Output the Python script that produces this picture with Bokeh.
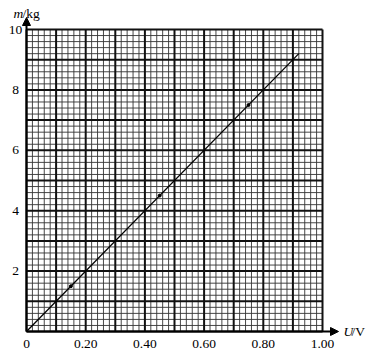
import numpy as np
from bokeh.plotting import figure
from bokeh.models import Range1d, Arrow, NormalHead
from bokeh.core.properties import value
from bokeh.embed import file_html
from bokeh.resources import INLINE

# ---- data ----
x_tick_values = [0, 0.2, 0.4, 0.6, 0.8, 1.0]
x_tick_labels = ["0", "0.20", "0.40", "0.60", "0.80", "1.00"]
y_tick_values = [2, 4, 6, 8, 10]
y_tick_labels = ["2", "4", "6", "8", "10"]
line_u = [0.0, 0.92]
line_m = [0.0, 9.2]
point_u = [0.15, 0.45, 0.75]
point_m = [1.5, 4.5, 7.5]

X_MAX, Y_MAX = 1.0, 10.0
X_MINOR, Y_MINOR = 0.02, 0.2

# pixel geometry
W, H = 372, 355
ox, oy = 26, 331          # pixel of origin
sx, sy = 296.0, 30.2      # pixels per unit

p = figure(width=W, height=H, output_backend="svg", toolbar_location=None,
           min_border=0, min_border_left=0, min_border_right=0,
           min_border_top=0, min_border_bottom=0,
           x_range=Range1d(-ox / sx, (W - ox) / sx),
           y_range=Range1d(-(H - oy) / sy, oy / sy))
p.axis.visible = False
p.grid.visible = False
p.outline_line_color = None
p.background_fill_color = "white"
p.border_fill_color = "white"

# grid
xs = np.round(np.arange(0, X_MAX + 1e-9, X_MINOR), 4)
ys = np.round(np.arange(0, Y_MAX + 1e-9, Y_MINOR), 4)
is_major_x = np.isclose((xs * 10) % 1, 0) | np.isclose((xs * 10) % 1, 1)
is_major_y = np.isclose(ys % 1, 0) | np.isclose(ys % 1, 1)

minor_v = xs[~is_major_x]
minor_h = ys[~is_major_y]
p.segment(x0=minor_v, y0=0, x1=minor_v, y1=Y_MAX, line_color="#333333", line_width=0.9)
p.segment(x0=0, y0=minor_h, x1=X_MAX, y1=minor_h, line_color="#333333", line_width=0.9)
major_v = xs[is_major_x]
major_h = ys[is_major_y]
p.segment(x0=major_v, y0=0, x1=major_v, y1=Y_MAX, line_color="#111111", line_width=2)
p.segment(x0=0, y0=major_h, x1=X_MAX, y1=major_h, line_color="#111111", line_width=2)

# axes with arrows
p.add_layout(Arrow(end=NormalHead(size=8, fill_color="black", line_color="black"),
                   x_start=0, y_start=0, x_end=(338 - ox) / sx, y_end=0,
                   line_color="black", line_width=2))
p.add_layout(Arrow(end=NormalHead(size=8, fill_color="black", line_color="black"),
                   x_start=0, y_start=0, x_end=0, y_end=(oy - 17) / sy,
                   line_color="black", line_width=2))

# data line and points
p.line(line_u, line_m, line_color="black", line_width=1.3)
p.scatter(point_u, point_m, size=3, color="black")

font = value("Liberation Serif")
# tick labels
p.text(x=x_tick_values, y=[-(343 - oy) / sy] * len(x_tick_values), text=x_tick_labels,
       text_font=font, text_font_size="13.5px", text_align="center",
       text_baseline="middle", text_color="black")
p.text(x=[-(ox - 15) / sx] * len(y_tick_values), y=y_tick_values, text=y_tick_labels,
       text_font=font, text_font_size="13.5px", text_align="center",
       text_baseline="middle", text_color="black")

# axis titles
p.text(x=[(13 - ox) / sx], y=[(oy - 13) / sy], text=["m"], text_font=font,
       text_font_style="italic", text_font_size="13.5px", text_align="left",
       text_baseline="middle", text_color="black")
p.text(x=[(22 - ox) / sx], y=[(oy - 13) / sy], text=["/kg"], text_font=font,
       text_font_size="13.5px", text_align="left",
       text_baseline="middle", text_color="black")
p.text(x=[(343 - ox) / sx], y=[0], text=["U"], text_font=font,
       text_font_style="italic", text_font_size="13.5px", text_align="left",
       text_baseline="middle", text_color="black")
p.text(x=[(351 - ox) / sx], y=[0], text=["/V"], text_font=font,
       text_font_size="13.5px", text_align="left",
       text_baseline="middle", text_color="black")

open("out.html", "w").write(file_html(p, INLINE))
